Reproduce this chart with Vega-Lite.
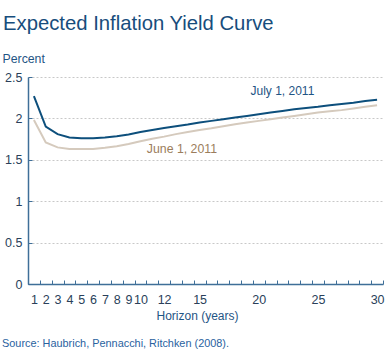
{
  "$schema": "https://vega.github.io/schema/vega-lite/v6.json",
  "padding": {"left": 2, "top": 13, "right": 5, "bottom": 5},
  "background": "white",
  "title": {
    "text": "Expected Inflation Yield Curve",
    "anchor": "start",
    "frame": "group",
    "dx": -25,
    "offset": 18,
    "font": "Liberation Sans",
    "fontSize": 20.3,
    "fontWeight": "normal",
    "color": "#174d7c"
  },
  "config": {
    "view": {"stroke": null},
    "font": "Liberation Sans"
  },
  "datasets": {
    "curves": [
      {"h": 1, "v": 2.27, "s": "July 1, 2011"},
      {"h": 2, "v": 1.9, "s": "July 1, 2011"},
      {"h": 3, "v": 1.81, "s": "July 1, 2011"},
      {"h": 4, "v": 1.77, "s": "July 1, 2011"},
      {"h": 5, "v": 1.76, "s": "July 1, 2011"},
      {"h": 6, "v": 1.76, "s": "July 1, 2011"},
      {"h": 7, "v": 1.77, "s": "July 1, 2011"},
      {"h": 8, "v": 1.785, "s": "July 1, 2011"},
      {"h": 9, "v": 1.805, "s": "July 1, 2011"},
      {"h": 10, "v": 1.835, "s": "July 1, 2011"},
      {"h": 11, "v": 1.86, "s": "July 1, 2011"},
      {"h": 12, "v": 1.885, "s": "July 1, 2011"},
      {"h": 13, "v": 1.905, "s": "July 1, 2011"},
      {"h": 14, "v": 1.925, "s": "July 1, 2011"},
      {"h": 15, "v": 1.95, "s": "July 1, 2011"},
      {"h": 16, "v": 1.97, "s": "July 1, 2011"},
      {"h": 17, "v": 1.99, "s": "July 1, 2011"},
      {"h": 18, "v": 2.01, "s": "July 1, 2011"},
      {"h": 19, "v": 2.03, "s": "July 1, 2011"},
      {"h": 20, "v": 2.05, "s": "July 1, 2011"},
      {"h": 21, "v": 2.07, "s": "July 1, 2011"},
      {"h": 22, "v": 2.09, "s": "July 1, 2011"},
      {"h": 23, "v": 2.11, "s": "July 1, 2011"},
      {"h": 24, "v": 2.125, "s": "July 1, 2011"},
      {"h": 25, "v": 2.14, "s": "July 1, 2011"},
      {"h": 26, "v": 2.16, "s": "July 1, 2011"},
      {"h": 27, "v": 2.175, "s": "July 1, 2011"},
      {"h": 28, "v": 2.19, "s": "July 1, 2011"},
      {"h": 29, "v": 2.21, "s": "July 1, 2011"},
      {"h": 30, "v": 2.225, "s": "July 1, 2011"},
      {"h": 1, "v": 1.98, "s": "June 1, 2011"},
      {"h": 2, "v": 1.71, "s": "June 1, 2011"},
      {"h": 3, "v": 1.65, "s": "June 1, 2011"},
      {"h": 4, "v": 1.63, "s": "June 1, 2011"},
      {"h": 5, "v": 1.63, "s": "June 1, 2011"},
      {"h": 6, "v": 1.63, "s": "June 1, 2011"},
      {"h": 7, "v": 1.645, "s": "June 1, 2011"},
      {"h": 8, "v": 1.665, "s": "June 1, 2011"},
      {"h": 9, "v": 1.69, "s": "June 1, 2011"},
      {"h": 10, "v": 1.725, "s": "June 1, 2011"},
      {"h": 11, "v": 1.755, "s": "June 1, 2011"},
      {"h": 12, "v": 1.78, "s": "June 1, 2011"},
      {"h": 13, "v": 1.81, "s": "June 1, 2011"},
      {"h": 14, "v": 1.835, "s": "June 1, 2011"},
      {"h": 15, "v": 1.86, "s": "June 1, 2011"},
      {"h": 16, "v": 1.88, "s": "June 1, 2011"},
      {"h": 17, "v": 1.905, "s": "June 1, 2011"},
      {"h": 18, "v": 1.93, "s": "June 1, 2011"},
      {"h": 19, "v": 1.95, "s": "June 1, 2011"},
      {"h": 20, "v": 1.97, "s": "June 1, 2011"},
      {"h": 21, "v": 1.99, "s": "June 1, 2011"},
      {"h": 22, "v": 2.01, "s": "June 1, 2011"},
      {"h": 23, "v": 2.03, "s": "June 1, 2011"},
      {"h": 24, "v": 2.05, "s": "June 1, 2011"},
      {"h": 25, "v": 2.07, "s": "June 1, 2011"},
      {"h": 26, "v": 2.085, "s": "June 1, 2011"},
      {"h": 27, "v": 2.1, "s": "June 1, 2011"},
      {"h": 28, "v": 2.12, "s": "June 1, 2011"},
      {"h": 29, "v": 2.14, "s": "June 1, 2011"},
      {"h": 30, "v": 2.16, "s": "June 1, 2011"}
    ],
    "labels": [
      {"h": 22, "v": 2.33, "s": "July 1, 2011"},
      {"h": 13, "v": 1.63, "s": "June 1, 2011"}
    ]
  },
  "vconcat": [
    {
      "width": 355,
      "height": 207,
      "title": {
        "text": "Source: Haubrich, Pennacchi, Ritchken (2008).",
        "orient": "bottom",
        "anchor": "start",
        "frame": "group",
        "dx": -26,
        "offset": 16,
        "font": "Liberation Sans",
        "fontSize": 10.9,
        "fontWeight": "normal",
        "color": "#2a62a0"
      },
      "layer": [
        {
          "data": {"name": "curves"},
          "mark": {"type": "line", "strokeWidth": 2, "interpolate": "linear"},
          "encoding": {
            "x": {
              "field": "h",
              "type": "ordinal",
              "sort": "ascending",
              "scale": {"type": "band", "paddingInner": 0, "paddingOuter": 0},
              "axis": {
                "title": "Horizon (years)",
                "titleFont": "Liberation Sans",
                "titleFontSize": 12,
                "titleFontWeight": "normal",
                "titleColor": "#1f5585",
                "titlePadding": 5,
                "titleX": 169,
                "labelAngle": 0,
                "labelFont": "Liberation Sans",
                "labelFontSize": 12.5,
                "labelColor": "#2a3f5a",
                "labelPadding": 13,
                "labelExpr": "(toNumber(datum.value) <= 10 || toNumber(datum.value) == 12 || toNumber(datum.value) % 5 == 0) ? datum.label : ''",
                "tickBand": "extent",
                "tickSize": -4,
                "tickColor": "#3f6f98",
                "domainColor": "#3f6f98",
                "domainWidth": 1.5,
                "grid": false
              }
            },
            "y": {
              "field": "v",
              "type": "quantitative",
              "scale": {"domain": [0, 2.5], "nice": false, "zero": true},
              "axis": {
                "title": "Percent",
                "titleAngle": 0,
                "titleAlign": "left",
                "titleBaseline": "alphabetic",
                "titleX": -26,
                "titleY": -15,
                "titleFont": "Liberation Sans",
                "titleFontSize": 12.3,
                "titleFontWeight": "normal",
                "titleColor": "#1f5585",
                "values": [0, 0.5, 1, 1.5, 2, 2.5],
                "format": "~g",
                "labelFont": "Liberation Sans",
                "labelFontSize": 12.5,
                "labelColor": "#2a3f5a",
                "labelPadding": 10,
                "tickSize": -4,
                "tickColor": "#3f6f98",
                "domainColor": "#3f6f98",
                "domainWidth": 1.5,
                "grid": true,
                "gridColor": "#c8c8c8",
                "gridDash": [2, 2],
                "gridWidth": 1
              }
            },
            "color": {
              "field": "s",
              "type": "nominal",
              "scale": {"domain": ["July 1, 2011", "June 1, 2011"], "range": ["#0d4f7c", "#d5cabd"]},
              "legend": null
            }
          }
        },
        {
          "data": {"name": "labels"},
          "transform": [{"filter": "datum.s == 'July 1, 2011'"}],
          "mark": {"type": "text", "font": "Liberation Sans", "fontSize": 12, "align": "center", "baseline": "middle", "color": "#1f5585"},
          "encoding": {
            "x": {"field": "h", "type": "ordinal"},
            "y": {"field": "v", "type": "quantitative"},
            "text": {"field": "s"}
          }
        },
        {
          "data": {"name": "labels"},
          "transform": [{"filter": "datum.s == 'June 1, 2011'"}],
          "mark": {"type": "text", "font": "Liberation Sans", "fontSize": 12.3, "align": "center", "baseline": "middle", "dx": 6, "color": "#9b7d5c"},
          "encoding": {
            "x": {"field": "h", "type": "ordinal"},
            "y": {"field": "v", "type": "quantitative"},
            "text": {"field": "s"}
          }
        }
      ]
    }
  ]
}
